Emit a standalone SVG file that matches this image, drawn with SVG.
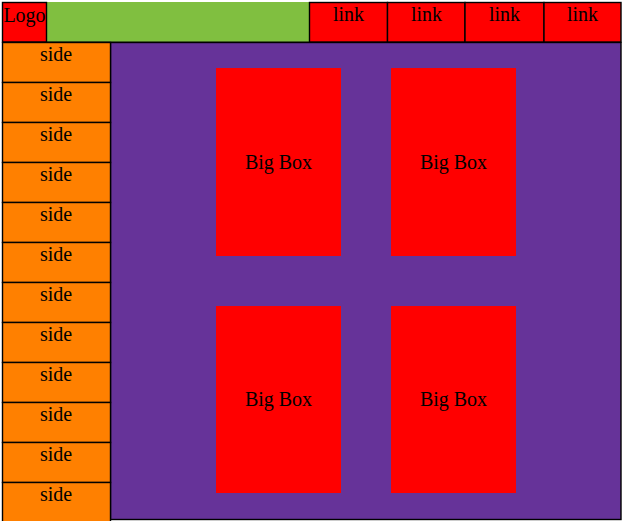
<svg xmlns="http://www.w3.org/2000/svg" width="623" height="521" viewBox="0 0 623 521">
<style>
.b{stroke:#000;stroke-width:1.4}
.red{fill:#ff0000}
.side{fill:#ff8000}
text{font-family:"Liberation Serif","Times New Roman",serif;font-size:20px;fill:#000;text-anchor:middle}
</style>
<rect x="0" y="0" width="623" height="521" fill="#fff"/>
<g id="main"><rect class="b" x="110.5" y="42.5" width="510.5" height="477" fill="#663399"/></g>
<g id="header-bar"><rect x="47" y="2" width="262" height="40.5" fill="#80bf40"/><line class="b" x1="2" y1="42.3" x2="621" y2="42.3"/></g>
<g id="logo"><rect class="b red" x="2.5" y="2.5" width="44" height="39.5"/><text x="24.5" y="22" style="text-anchor:middle">Logo</text></g>
<g id="link1"><rect class="b red" x="309.5" y="2.5" width="78" height="39.5"/><text x="348.5" y="21">link</text></g>
<g id="link2"><rect class="b red" x="387.5" y="2.5" width="77.5" height="39.5"/><text x="426.5" y="21">link</text></g>
<g id="link3"><rect class="b red" x="465" y="2.5" width="79" height="39.5"/><text x="504.5" y="21">link</text></g>
<g id="link4"><rect class="b red" x="544" y="2.5" width="77" height="39.5"/><text x="582.5" y="21">link</text></g>
<g id="side1"><rect class="b side" x="2.5" y="42.5" width="108" height="40"/><text x="56" y="61">side</text></g>
<g id="side2"><rect class="b side" x="2.5" y="82.5" width="108" height="40"/><text x="56" y="101">side</text></g>
<g id="side3"><rect class="b side" x="2.5" y="122.5" width="108" height="40"/><text x="56" y="141">side</text></g>
<g id="side4"><rect class="b side" x="2.5" y="162.5" width="108" height="40"/><text x="56" y="181">side</text></g>
<g id="side5"><rect class="b side" x="2.5" y="202.5" width="108" height="40"/><text x="56" y="221">side</text></g>
<g id="side6"><rect class="b side" x="2.5" y="242.5" width="108" height="40"/><text x="56" y="261">side</text></g>
<g id="side7"><rect class="b side" x="2.5" y="282.5" width="108" height="40"/><text x="56" y="301">side</text></g>
<g id="side8"><rect class="b side" x="2.5" y="322.5" width="108" height="40"/><text x="56" y="341">side</text></g>
<g id="side9"><rect class="b side" x="2.5" y="362.5" width="108" height="40"/><text x="56" y="381">side</text></g>
<g id="side10"><rect class="b side" x="2.5" y="402.5" width="108" height="40"/><text x="56" y="421">side</text></g>
<g id="side11"><rect class="b side" x="2.5" y="442.5" width="108" height="40"/><text x="56" y="461">side</text></g>
<g id="side12"><rect class="b side" x="2.5" y="482.5" width="108" height="40"/><text x="56" y="501">side</text></g>
<g id="bigbox1"><rect class="red" x="216" y="68" width="125" height="188"/><text x="278.5" y="169">Big Box</text></g>
<g id="bigbox2"><rect class="red" x="391" y="68" width="125" height="188"/><text x="453.5" y="169">Big Box</text></g>
<g id="bigbox3"><rect class="red" x="216" y="306" width="125" height="187"/><text x="278.5" y="406">Big Box</text></g>
<g id="bigbox4"><rect class="red" x="391" y="306" width="125" height="187"/><text x="453.5" y="406">Big Box</text></g>
<g id="connectors"></g>
</svg>
